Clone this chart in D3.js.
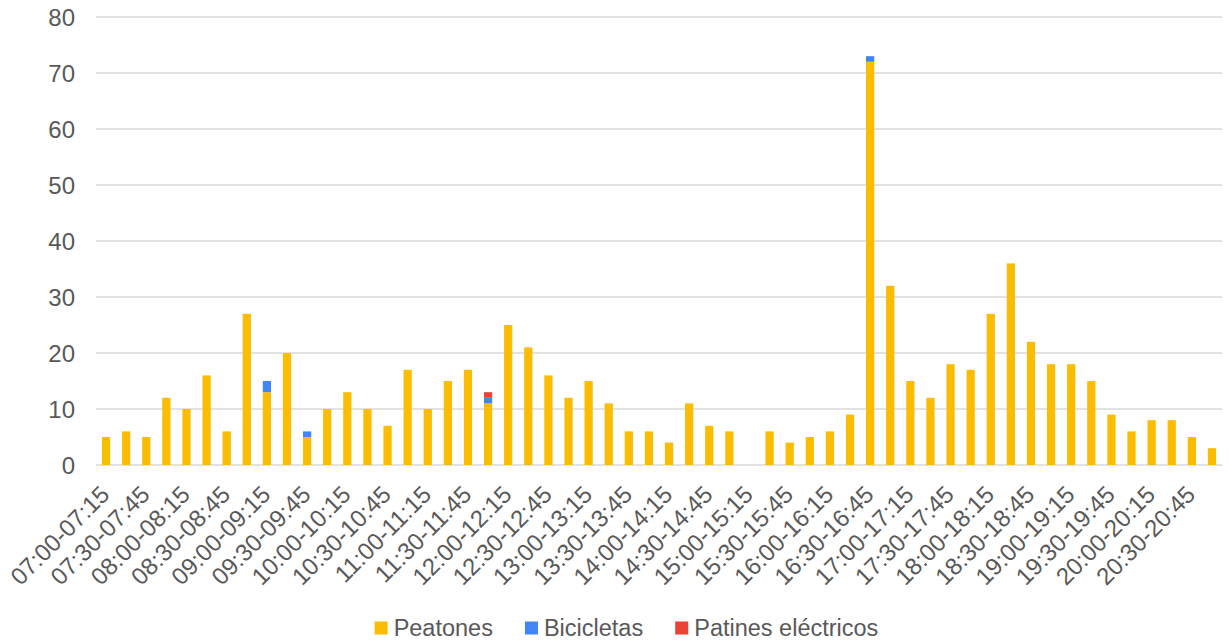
<!DOCTYPE html>
<html>
<head>
<meta charset="utf-8">
<script src="https://cdn.jsdelivr.net/npm/d3@7"></script>
<style>
  html, body { margin: 0; padding: 0; background: #ffffff; }
  svg { display: block; font-family: "Liberation Sans", Arial, sans-serif; }
</style>
</head>
<body>
<svg id="chart" width="1229" height="644"></svg>
<script>
const categories = [
  "07:00-07:15","07:15-07:30","07:30-07:45","07:45-08:00",
  "08:00-08:15","08:15-08:30","08:30-08:45","08:45-09:00",
  "09:00-09:15","09:15-09:30","09:30-09:45","09:45-10:00",
  "10:00-10:15","10:15-10:30","10:30-10:45","10:45-11:00",
  "11:00-11:15","11:15-11:30","11:30-11:45","11:45-12:00",
  "12:00-12:15","12:15-12:30","12:30-12:45","12:45-13:00",
  "13:00-13:15","13:15-13:30","13:30-13:45","13:45-14:00",
  "14:00-14:15","14:15-14:30","14:30-14:45","14:45-15:00",
  "15:00-15:15","15:15-15:30","15:30-15:45","15:45-16:00",
  "16:00-16:15","16:15-16:30","16:30-16:45","16:45-17:00",
  "17:00-17:15","17:15-17:30","17:30-17:45","17:45-18:00",
  "18:00-18:15","18:15-18:30","18:30-18:45","18:45-19:00",
  "19:00-19:15","19:15-19:30","19:30-19:45","19:45-20:00",
  "20:00-20:15","20:15-20:30","20:30-20:45","20:45-21:00"
];
const peatones = [
  5, 6, 5, 12, 10, 16, 6, 27, 13, 20, 5, 10, 13, 10, 7, 17,
  10, 15, 17, 11, 25, 21, 16, 12, 15, 11, 6, 6, 4, 11, 7, 6,
  0, 6, 4, 5, 6, 9, 72, 32, 15, 12, 18, 17, 27, 36, 22, 18,
  18, 15, 9, 6, 8, 8, 5, 3
];
const bicicletas = [
  0, 0, 0, 0, 0, 0, 0, 0, 2, 0, 1, 0, 0, 0, 0, 0,
  0, 0, 0, 1, 0, 0, 0, 0, 0, 0, 0, 0, 0, 0, 0, 0,
  0, 0, 0, 0, 0, 0, 1, 0, 0, 0, 0, 0, 0, 0, 0, 0,
  0, 0, 0, 0, 0, 0, 0, 0
];
const patines = [
  0, 0, 0, 0, 0, 0, 0, 0, 0, 0, 0, 0, 0, 0, 0, 0,
  0, 0, 0, 1, 0, 0, 0, 0, 0, 0, 0, 0, 0, 0, 0, 0,
  0, 0, 0, 0, 0, 0, 0, 0, 0, 0, 0, 0, 0, 0, 0, 0,
  0, 0, 0, 0, 0, 0, 0, 0
];
const seriesNames = ["Peatones", "Bicicletas", "Patines eléctricos"];
const seriesColors = ["#FBBC04", "#4285F4", "#EA4335"];
const yTicks = [0, 10, 20, 30, 40, 50, 60, 70, 80];

const svg = d3.select("#chart");
const W = 1229, H = 644;
const margin = { top: 17, right: 7, bottom: 179, left: 96 };
const innerW = W - margin.left - margin.right;
const innerH = H - margin.top - margin.bottom;
const textColor = "#595959";

const rows = categories.map((c, i) => ({
  cat: c,
  "Peatones": peatones[i],
  "Bicicletas": bicicletas[i],
  "Patines eléctricos": patines[i]
}));
const stacked = d3.stack().keys(seriesNames)(rows);

const x = d3.scaleBand().domain(categories).range([margin.left, margin.left + innerW]).paddingInner(0.59).paddingOuter(0.295);
const y = d3.scaleLinear().domain([0, 80]).range([margin.top + innerH, margin.top]);

// gridlines
svg.append("g").selectAll("line").data(yTicks).join("line")
  .attr("x1", margin.left).attr("x2", margin.left + innerW)
  .attr("y1", d => y(d)).attr("y2", d => y(d))
  .attr("stroke", "#d9d9d9").attr("stroke-width", 1.5);

// y labels
svg.append("g").selectAll("text").data(yTicks).join("text")
  .attr("x", 75).attr("y", d => y(d)).attr("dy", "0.36em")
  .attr("text-anchor", "end").attr("font-size", 24).attr("fill", textColor)
  .text(d => d);

// bars
const gBars = svg.append("g");
stacked.forEach((s, si) => {
  gBars.append("g").attr("fill", seriesColors[si])
    .selectAll("rect").data(s.filter(d => d[1] - d[0] > 0)).join("rect")
    .attr("x", d => x(d.data.cat))
    .attr("width", x.bandwidth())
    .attr("y", d => y(d[1]))
    .attr("height", d => y(d[0]) - y(d[1]));
});

// x labels (every other)
const xLabels = categories.filter((c, i) => i % 2 === 0);
svg.append("g").selectAll("text").data(xLabels).join("text")
  .attr("transform", d => `translate(${x(d) + x.bandwidth() / 2 - 1},${margin.top + innerH + 25}) rotate(-45)`)
  .attr("text-anchor", "end").attr("dy", "0.35em")
  .attr("font-size", 24).attr("fill", textColor)
  .text(d => d);

// legend
const legend = svg.append("g");
const items = legend.selectAll("g").data(seriesNames).join("g");
items.append("rect").attr("width", 13).attr("height", 13).attr("y", -6.5)
  .attr("fill", (d, i) => seriesColors[i]);
items.append("text").attr("x", 19).attr("dy", "0.36em")
  .attr("font-size", 23.5).attr("fill", textColor).text(d => d);
const widths = [];
items.each(function() {
  const w = 19 + this.querySelector("text").getComputedTextLength();
  widths.push(w);
});
const gap = 32;
const total = d3.sum(widths) + gap * (widths.length - 1);
let start = (W - total) / 2 + 12;
items.attr("transform", (d, i) => {
  const tx = start;
  start += widths[i] + gap;
  return `translate(${tx},628)`;
});
</script>
</body>
</html>
